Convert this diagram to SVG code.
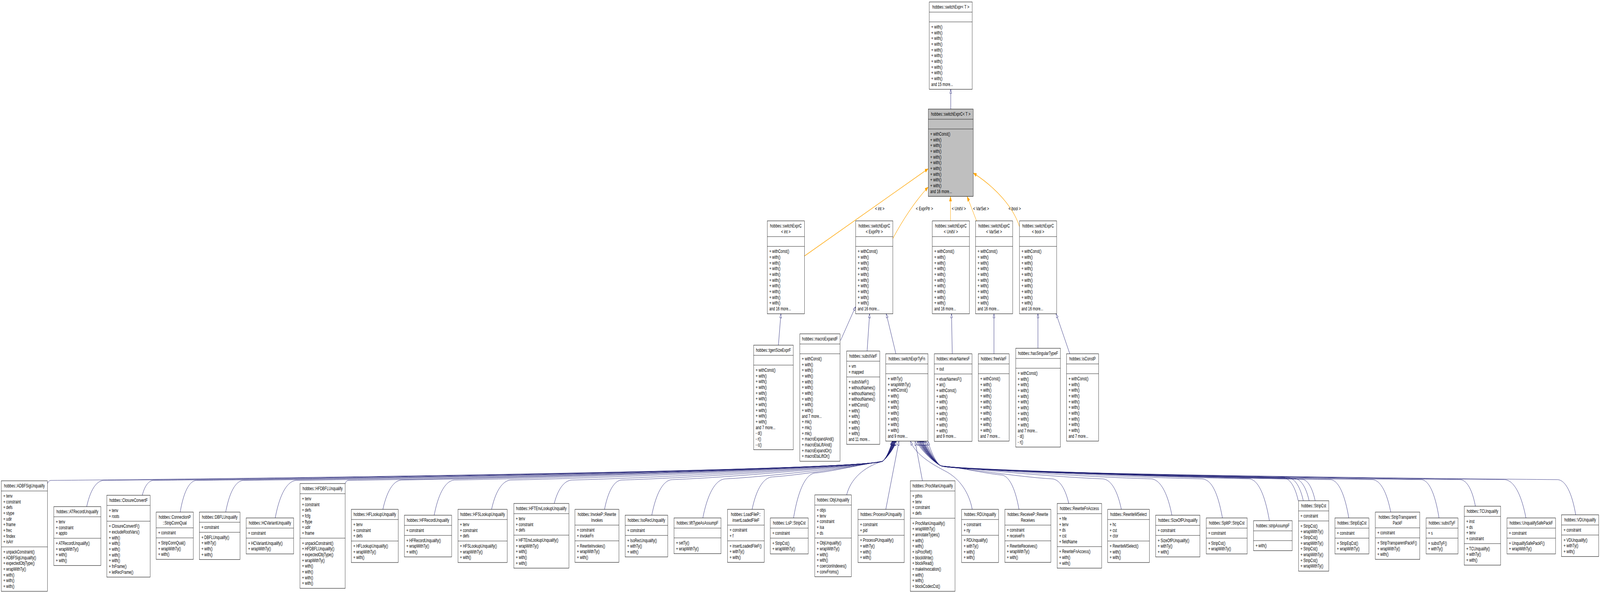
<svg xmlns="http://www.w3.org/2000/svg" width="6331" height="1517" viewBox="0 0 6331 1517" preserveAspectRatio="none">
<style>
svg{width:100vw;height:100vh;overflow:hidden}
text{font-family:"Liberation Sans",Arial,Helvetica,sans-serif;font-size:13.33px;fill:#000}
.c{text-anchor:middle}
.b{fill:#fff;stroke:#000;stroke-width:1}
.g{fill:#bfbfbf;stroke:#000;stroke-width:1}
.d{fill:none;stroke:#000;stroke-width:1}
.e{fill:none;stroke:#191970;stroke-width:1;marker-end:url(#ah)}
.o{fill:none;stroke:#ffa500;stroke-width:1.4;marker-end:url(#ao)}
</style>
<defs>
<marker id="ah" markerUnits="userSpaceOnUse" markerWidth="12" markerHeight="10" refX="10.5" refY="4" orient="auto"><path d="M0.5,0.5 L10.5,4 L0.5,7.5 Z" fill="#fff" stroke="#191970" stroke-width="1"/></marker>
<marker id="ao" markerUnits="userSpaceOnUse" markerWidth="14" markerHeight="11" refX="12" refY="5" orient="auto"><path d="M0,0.5 L12,5 L0,9.5 Z" fill="#ffa500" stroke="#ffa500" stroke-width="1"/></marker>
</defs>
<rect width="6331" height="1517" fill="#fff"/>

<g id="edges">
<path class="e" d="M3762,279 L3762,229"/>
<path class="o" d="M3183,655 L3672,432"/>
<path class="o" d="M3532,611 C3570,565 3620,515 3672,479"/>
<path class="o" d="M3761,565 L3761,503"/>
<path class="o" d="M3864,565 L3827,503"/>
<path class="o" d="M4034,580 C4010,530 3940,480 3852,443"/>
<path class="e" d="M3080,883 L3090,803"/>
<path class="e" d="M3326,871 L3385,785"/>
<path class="e" d="M3431,898 L3441,803"/>
<path class="e" d="M3545,905 L3507,803"/>
<path class="e" d="M3768,905 L3765,803"/>
<path class="e" d="M3933,905 L3933,803"/>
<path class="e" d="M4107,891 L4107,803"/>
<path class="e" d="M4233,905 L4179,803"/>
<path class="e" d="M188,1237 C191,1231 197,1229 201,1229 C1335,1222 3440,1202 3492,1180 C3508,1172 3522,1148 3530,1129"/>
<path class="e" d="M343,1296 C360,1246 387,1229 411,1229 C1471,1222 3440,1200 3492,1180 C3508,1172 3523,1148 3531,1129"/>
<path class="e" d="M563,1267 C574,1239 592,1229 607,1229 C1599,1222 3440,1199 3492,1180 C3508,1172 3524,1148 3532,1129"/>
<path class="e" d="M713,1310 C729,1249 755,1229 778,1229 C1710,1222 3440,1198 3492,1180 C3508,1172 3525,1148 3533,1129"/>
<path class="e" d="M893,1310 C911,1249 939,1229 964,1229 C1831,1222 3440,1197 3492,1180 C3508,1172 3526,1148 3534,1129"/>
<path class="e" d="M1089,1325 C1110,1253 1144,1229 1174,1229 C1967,1222 3440,1196 3492,1180 C3508,1172 3527,1148 3535,1129"/>
<path class="e" d="M1366,1237 C1369,1231 1374,1229 1379,1229 C2100,1222 3440,1195 3492,1180 C3508,1172 3528,1148 3536,1129"/>
<path class="e" d="M1515,1303 C1534,1247 1564,1228 1590,1228 C2237,1221 3440,1194 3492,1180 C3508,1172 3529,1148 3537,1129"/>
<path class="e" d="M1718,1318 C1738,1251 1771,1228 1800,1228 C2374,1221 3440,1193 3492,1180 C3508,1172 3530,1148 3538,1129"/>
<path class="e" d="M1945,1303 C1964,1247 1996,1228 2023,1228 C2519,1221 3440,1192 3492,1180 C3508,1172 3531,1148 3539,1129"/>
<path class="e" d="M2193,1288 C2211,1243 2240,1228 2265,1228 C2676,1221 3440,1191 3492,1180 C3508,1172 3532,1148 3540,1129"/>
<path class="e" d="M2392,1303 C2409,1247 2437,1228 2461,1228 C2804,1221 3440,1190 3492,1180 C3508,1172 3533,1148 3541,1129"/>
<path class="e" d="M2579,1318 C2600,1250 2632,1227 2661,1227 C2934,1220 3440,1189 3492,1180 C3508,1172 3534,1148 3542,1129"/>
<path class="e" d="M2781,1325 C2804,1250 2840,1225 2872,1225 C3071,1218 3440,1188 3492,1180 C3508,1172 3535,1148 3543,1129"/>
<path class="e" d="M2976,1303 C2996,1241 3029,1220 3058,1220 C3192,1214 3440,1186 3492,1180 C3508,1172 3536,1148 3544,1129"/>
<path class="e" d="M3140,1325 C3162,1239 3197,1210 3228,1210 C3302,1205 3440,1184 3492,1180 C3508,1172 3537,1148 3545,1129"/>
<path class="e" d="M3350,1266 C3370,1215 3440,1190 3492,1180 C3508,1172 3538,1148 3547,1129"/>
<path class="e" d="M3505,1303 L3557,1129"/>
<path class="e" d="M3650,1230 L3621,1129"/>
<path class="e" d="M3847,1303 C3835,1262 3800,1225 3740,1205 C3680,1185 3620,1160 3603,1129"/>
<path class="e" d="M4032,1303 C4014,1237 3985,1215 3960,1215 C3897,1211 3780,1194 3725,1192 C3705,1188 3638,1150 3628,1129"/>
<path class="e" d="M4229,1288 C4212,1241 4185,1225 4161,1225 C4028,1220 3780,1195 3725,1192 C3705,1188 3642,1150 3632,1129"/>
<path class="e" d="M4437,1303 C4418,1244 4388,1225 4361,1225 C4158,1220 3780,1196 3725,1192 C3705,1188 3645,1150 3635,1129"/>
<path class="e" d="M4637,1318 C4616,1248 4582,1225 4553,1225 C4282,1220 3780,1197 3725,1192 C3705,1188 3648,1150 3638,1129"/>
<path class="e" d="M4837,1325 C4816,1250 4788,1225 4753,1225 C4412,1220 3780,1198 3725,1192 C3705,1188 3650,1150 3640,1129"/>
<path class="e" d="M5023,1333 C5002,1252 4970,1225 4941,1225 C4535,1220 3780,1199 3725,1192 C3705,1188 3652,1150 3642,1129"/>
<path class="e" d="M5137,1281 C5122,1237 5097,1222 5076,1222 C4622,1217 3780,1200 3725,1192 C3705,1188 3654,1150 3644,1129"/>
<path class="e" d="M5157,1281 C5142,1237 5117,1222 5095,1222 C4635,1217 3780,1201 3725,1192 C3705,1188 3656,1150 3646,1129"/>
<path class="e" d="M5180,1281 C5165,1238 5141,1224 5120,1224 C4651,1219 3780,1202 3725,1192 C3705,1188 3658,1150 3648,1129"/>
<path class="e" d="M5204,1281 C5190,1240 5169,1226 5150,1226 C4671,1221 3780,1203 3725,1192 C3705,1188 3660,1150 3650,1129"/>
<path class="e" d="M5337,1325 C5318,1252 5289,1227 5263,1227 C4744,1222 3780,1204 3725,1192 C3705,1188 3662,1150 3652,1129"/>
<path class="e" d="M5503,1310 C5484,1248 5455,1227 5429,1227 C4852,1222 3780,1205 3725,1192 C3705,1188 3664,1150 3654,1129"/>
<path class="e" d="M5694,1325 C5676,1252 5648,1227 5623,1227 C4978,1222 3780,1206 3725,1192 C3705,1188 3666,1150 3656,1129"/>
<path class="e" d="M5838,1295 C5823,1244 5798,1227 5777,1227 C5078,1222 3780,1207 3725,1192 C3705,1188 3670,1150 3660,1129"/>
<path class="e" d="M6038,1325 C6016,1252 5982,1227 5952,1227 C5192,1222 3780,1208 3725,1192 C3705,1188 3674,1150 3664,1129"/>
<path class="e" d="M6235,1317 C6217,1250 6188,1227 6162,1227 C5323,1222 3780,1209 3725,1192 C3705,1188 3680,1150 3672,1129"/>
<text class="c" x="3481" y="538">&lt; int &gt;</text>
<text class="c" x="3658" y="538">&lt; ExprPtr &gt;</text>
<text class="c" x="3794" y="538">&lt; UnitV &gt;</text>
<text class="c" x="3882" y="538">&lt; VarSet &gt;</text>
<text class="c" x="4015" y="538">&lt; bool &gt;</text>
</g>

<g id="node-switchExpr" transform="translate(3677,5)">
<rect class="b" width="170" height="223.4"/><path class="d" d="M0,26H170M0,51H170"/>
<text class="c" x="85" y="17.5">hobbes::switchExpr&lt; T &gt;</text>
<text y="68"><tspan x="8">+ with()</tspan><tspan x="8" dy="14.67">+ with()</tspan><tspan x="8" dy="14.67">+ with()</tspan><tspan x="8" dy="14.67">+ with()</tspan><tspan x="8" dy="14.67">+ with()</tspan><tspan x="8" dy="14.67">+ with()</tspan><tspan x="8" dy="14.67">+ with()</tspan><tspan x="8" dy="14.67">+ with()</tspan><tspan x="8" dy="14.67">+ with()</tspan><tspan x="8" dy="14.67">+ with()</tspan><tspan x="8" dy="14.67">and 15 more...</tspan></text>
</g>

<g id="node-switchExprC" transform="translate(3673,279)">
<rect class="g" width="178" height="223.4"/><path class="d" d="M0,26H178M0,51H178"/>
<text class="c" x="89" y="17.5">hobbes::switchExprC&lt; T &gt;</text>
<text y="68"><tspan x="8">+ withConst()</tspan><tspan x="8" dy="14.67">+ with()</tspan><tspan x="8" dy="14.67">+ with()</tspan><tspan x="8" dy="14.67">+ with()</tspan><tspan x="8" dy="14.67">+ with()</tspan><tspan x="8" dy="14.67">+ with()</tspan><tspan x="8" dy="14.67">+ with()</tspan><tspan x="8" dy="14.67">+ with()</tspan><tspan x="8" dy="14.67">+ with()</tspan><tspan x="8" dy="14.67">+ with()</tspan><tspan x="8" dy="14.67">and 16 more...</tspan></text>
</g>

<g id="node-switchExprC-int" transform="translate(3036,565)">
<rect class="b" width="147" height="237.7"/><path class="d" d="M0,40.3H147M0,65.3H147"/>
<text class="c" x="73.5" y="17.5">hobbes::switchExprC</text><text class="c" x="73.5" y="32.2">&lt; int &gt;</text>
<text y="82.3"><tspan x="8">+ withConst()</tspan><tspan x="8" dy="14.67">+ with()</tspan><tspan x="8" dy="14.67">+ with()</tspan><tspan x="8" dy="14.67">+ with()</tspan><tspan x="8" dy="14.67">+ with()</tspan><tspan x="8" dy="14.67">+ with()</tspan><tspan x="8" dy="14.67">+ with()</tspan><tspan x="8" dy="14.67">+ with()</tspan><tspan x="8" dy="14.67">+ with()</tspan><tspan x="8" dy="14.67">+ with()</tspan><tspan x="8" dy="14.67">and 16 more...</tspan></text>
</g>

<g id="node-switchExprC-ExprPtr" transform="translate(3386,565)">
<rect class="b" width="147" height="237.7"/><path class="d" d="M0,40.3H147M0,65.3H147"/>
<text class="c" x="73.5" y="17.5">hobbes::switchExprC</text><text class="c" x="73.5" y="32.2">&lt; ExprPtr &gt;</text>
<text y="82.3"><tspan x="8">+ withConst()</tspan><tspan x="8" dy="14.67">+ with()</tspan><tspan x="8" dy="14.67">+ with()</tspan><tspan x="8" dy="14.67">+ with()</tspan><tspan x="8" dy="14.67">+ with()</tspan><tspan x="8" dy="14.67">+ with()</tspan><tspan x="8" dy="14.67">+ with()</tspan><tspan x="8" dy="14.67">+ with()</tspan><tspan x="8" dy="14.67">+ with()</tspan><tspan x="8" dy="14.67">+ with()</tspan><tspan x="8" dy="14.67">and 16 more...</tspan></text>
</g>

<g id="node-switchExprC-UnitV" transform="translate(3689,565)">
<rect class="b" width="147" height="237.7"/><path class="d" d="M0,40.3H147M0,65.3H147"/>
<text class="c" x="73.5" y="17.5">hobbes::switchExprC</text><text class="c" x="73.5" y="32.2">&lt; UnitV &gt;</text>
<text y="82.3"><tspan x="8">+ withConst()</tspan><tspan x="8" dy="14.67">+ with()</tspan><tspan x="8" dy="14.67">+ with()</tspan><tspan x="8" dy="14.67">+ with()</tspan><tspan x="8" dy="14.67">+ with()</tspan><tspan x="8" dy="14.67">+ with()</tspan><tspan x="8" dy="14.67">+ with()</tspan><tspan x="8" dy="14.67">+ with()</tspan><tspan x="8" dy="14.67">+ with()</tspan><tspan x="8" dy="14.67">+ with()</tspan><tspan x="8" dy="14.67">and 16 more...</tspan></text>
</g>

<g id="node-switchExprC-VarSet" transform="translate(3860,565)">
<rect class="b" width="147" height="237.7"/><path class="d" d="M0,40.3H147M0,65.3H147"/>
<text class="c" x="73.5" y="17.5">hobbes::switchExprC</text><text class="c" x="73.5" y="32.2">&lt; VarSet &gt;</text>
<text y="82.3"><tspan x="8">+ withConst()</tspan><tspan x="8" dy="14.67">+ with()</tspan><tspan x="8" dy="14.67">+ with()</tspan><tspan x="8" dy="14.67">+ with()</tspan><tspan x="8" dy="14.67">+ with()</tspan><tspan x="8" dy="14.67">+ with()</tspan><tspan x="8" dy="14.67">+ with()</tspan><tspan x="8" dy="14.67">+ with()</tspan><tspan x="8" dy="14.67">+ with()</tspan><tspan x="8" dy="14.67">+ with()</tspan><tspan x="8" dy="14.67">and 16 more...</tspan></text>
</g>

<g id="node-switchExprC-bool" transform="translate(4034,565)">
<rect class="b" width="147" height="237.7"/><path class="d" d="M0,40.3H147M0,65.3H147"/>
<text class="c" x="73.5" y="17.5">hobbes::switchExprC</text><text class="c" x="73.5" y="32.2">&lt; bool &gt;</text>
<text y="82.3"><tspan x="8">+ withConst()</tspan><tspan x="8" dy="14.67">+ with()</tspan><tspan x="8" dy="14.67">+ with()</tspan><tspan x="8" dy="14.67">+ with()</tspan><tspan x="8" dy="14.67">+ with()</tspan><tspan x="8" dy="14.67">+ with()</tspan><tspan x="8" dy="14.67">+ with()</tspan><tspan x="8" dy="14.67">+ with()</tspan><tspan x="8" dy="14.67">+ with()</tspan><tspan x="8" dy="14.67">+ with()</tspan><tspan x="8" dy="14.67">and 16 more...</tspan></text>
</g>

<g id="node-tgenSizeExprF" transform="translate(2982,883)">
<rect class="b" width="157" height="267.4"/><path class="d" d="M0,26H157M0,51H157"/>
<text class="c" x="78.5" y="17.5">hobbes::tgenSizeExprF</text>
<text y="68"><tspan x="8">+ withConst()</tspan><tspan x="8" dy="14.67">+ with()</tspan><tspan x="8" dy="14.67">+ with()</tspan><tspan x="8" dy="14.67">+ with()</tspan><tspan x="8" dy="14.67">+ with()</tspan><tspan x="8" dy="14.67">+ with()</tspan><tspan x="8" dy="14.67">+ with()</tspan><tspan x="8" dy="14.67">+ with()</tspan><tspan x="8" dy="14.67">+ with()</tspan><tspan x="8" dy="14.67">+ with()</tspan><tspan x="8" dy="14.67">and 7 more...</tspan><tspan x="8" dy="14.67">- d()</tspan><tspan x="8" dy="14.67">- r()</tspan><tspan x="8" dy="14.67">- c()</tspan></text>
</g>

<g id="node-macroExpandF" transform="translate(3165,854)">
<rect class="b" width="159" height="326"/><path class="d" d="M0,26H159M0,51H159"/>
<text class="c" x="79.5" y="17.5">hobbes::macroExpandF</text>
<text y="68"><tspan x="8">+ withConst()</tspan><tspan x="8" dy="14.67">+ with()</tspan><tspan x="8" dy="14.67">+ with()</tspan><tspan x="8" dy="14.67">+ with()</tspan><tspan x="8" dy="14.67">+ with()</tspan><tspan x="8" dy="14.67">+ with()</tspan><tspan x="8" dy="14.67">+ with()</tspan><tspan x="8" dy="14.67">+ with()</tspan><tspan x="8" dy="14.67">+ with()</tspan><tspan x="8" dy="14.67">+ with()</tspan><tspan x="8" dy="14.67">and 7 more...</tspan><tspan x="8" dy="14.67">+ mk()</tspan><tspan x="8" dy="14.67">+ mk()</tspan><tspan x="8" dy="14.67">+ mk()</tspan><tspan x="8" dy="14.67">+ macroExpandAnd()</tspan><tspan x="8" dy="14.67">+ macroEtaLiftAnd()</tspan><tspan x="8" dy="14.67">+ macroExpandOr()</tspan><tspan x="8" dy="14.67">+ macroEtaLiftOr()</tspan></text>
</g>

<g id="node-substVarF" transform="translate(3350,898)">
<rect class="b" width="131" height="238.7"/><path class="d" d="M0,26H131M0,66.3H131"/>
<text class="c" x="65.5" y="17.5">hobbes::substVarF</text>
<text y="43"><tspan x="8">+ vm</tspan><tspan x="8" dy="14.67">+ mapped</tspan></text>
<text y="83.3"><tspan x="8">+ substVarF()</tspan><tspan x="8" dy="14.67">+ withoutNames()</tspan><tspan x="8" dy="14.67">+ withoutNames()</tspan><tspan x="8" dy="14.67">+ withoutNames()</tspan><tspan x="8" dy="14.67">+ withConst()</tspan><tspan x="8" dy="14.67">+ with()</tspan><tspan x="8" dy="14.67">+ with()</tspan><tspan x="8" dy="14.67">+ with()</tspan><tspan x="8" dy="14.67">+ with()</tspan><tspan x="8" dy="14.67">+ with()</tspan><tspan x="8" dy="14.67">and 11 more...</tspan></text>
</g>

<g id="node-switchExprTyFn" transform="translate(3505,905)">
<rect class="b" width="167" height="223.4"/><path class="d" d="M0,26H167M0,51H167"/>
<text class="c" x="83.5" y="17.5">hobbes::switchExprTyFn</text>
<text y="68"><tspan x="8">+ withTy()</tspan><tspan x="8" dy="14.67">+ wrapWithTy()</tspan><tspan x="8" dy="14.67">+ withConst()</tspan><tspan x="8" dy="14.67">+ with()</tspan><tspan x="8" dy="14.67">+ with()</tspan><tspan x="8" dy="14.67">+ with()</tspan><tspan x="8" dy="14.67">+ with()</tspan><tspan x="8" dy="14.67">+ with()</tspan><tspan x="8" dy="14.67">+ with()</tspan><tspan x="8" dy="14.67">+ with()</tspan><tspan x="8" dy="14.67">and 9 more...</tspan></text>
</g>

<g id="node-etvarNamesF" transform="translate(3697,905)">
<rect class="b" width="149" height="224.1"/><path class="d" d="M0,26H149M0,51.7H149"/>
<text class="c" x="74.5" y="17.5">hobbes::etvarNamesF</text>
<text y="43"><tspan x="8">+ out</tspan></text>
<text y="68.7"><tspan x="8">+ etvarNamesF()</tspan><tspan x="8" dy="14.67">+ an()</tspan><tspan x="8" dy="14.67">+ withConst()</tspan><tspan x="8" dy="14.67">+ with()</tspan><tspan x="8" dy="14.67">+ with()</tspan><tspan x="8" dy="14.67">+ with()</tspan><tspan x="8" dy="14.67">+ with()</tspan><tspan x="8" dy="14.67">+ with()</tspan><tspan x="8" dy="14.67">+ with()</tspan><tspan x="8" dy="14.67">+ with()</tspan><tspan x="8" dy="14.67">and 9 more...</tspan></text>
</g>

<g id="node-freeVarF" transform="translate(3871,905)">
<rect class="b" width="122" height="223.4"/><path class="d" d="M0,26H122M0,51H122"/>
<text class="c" x="61" y="17.5">hobbes::freeVarF</text>
<text y="68"><tspan x="8">+ withConst()</tspan><tspan x="8" dy="14.67">+ with()</tspan><tspan x="8" dy="14.67">+ with()</tspan><tspan x="8" dy="14.67">+ with()</tspan><tspan x="8" dy="14.67">+ with()</tspan><tspan x="8" dy="14.67">+ with()</tspan><tspan x="8" dy="14.67">+ with()</tspan><tspan x="8" dy="14.67">+ with()</tspan><tspan x="8" dy="14.67">+ with()</tspan><tspan x="8" dy="14.67">+ with()</tspan><tspan x="8" dy="14.67">and 7 more...</tspan></text>
</g>

<g id="node-hasSingularTypeF" transform="translate(4019,891)">
<rect class="b" width="177" height="252.7"/><path class="d" d="M0,26H177M0,51H177"/>
<text class="c" x="88.5" y="17.5">hobbes::hasSingularTypeF</text>
<text y="68"><tspan x="8">+ withConst()</tspan><tspan x="8" dy="14.67">+ with()</tspan><tspan x="8" dy="14.67">+ with()</tspan><tspan x="8" dy="14.67">+ with()</tspan><tspan x="8" dy="14.67">+ with()</tspan><tspan x="8" dy="14.67">+ with()</tspan><tspan x="8" dy="14.67">+ with()</tspan><tspan x="8" dy="14.67">+ with()</tspan><tspan x="8" dy="14.67">+ with()</tspan><tspan x="8" dy="14.67">+ with()</tspan><tspan x="8" dy="14.67">and 7 more...</tspan><tspan x="8" dy="14.67">- d()</tspan><tspan x="8" dy="14.67">- r()</tspan></text>
</g>

<g id="node-isConstP" transform="translate(4220,905)">
<rect class="b" width="127" height="223.4"/><path class="d" d="M0,26H127M0,51H127"/>
<text class="c" x="63.5" y="17.5">hobbes::isConstP</text>
<text y="68"><tspan x="8">+ withConst()</tspan><tspan x="8" dy="14.67">+ with()</tspan><tspan x="8" dy="14.67">+ with()</tspan><tspan x="8" dy="14.67">+ with()</tspan><tspan x="8" dy="14.67">+ with()</tspan><tspan x="8" dy="14.67">+ with()</tspan><tspan x="8" dy="14.67">+ with()</tspan><tspan x="8" dy="14.67">+ with()</tspan><tspan x="8" dy="14.67">+ with()</tspan><tspan x="8" dy="14.67">+ with()</tspan><tspan x="8" dy="14.67">and 7 more...</tspan></text>
</g>

<g id="node-ADBFSigUnqualify" transform="translate(5,1230)">
<rect class="b" width="183" height="282.7"/><path class="d" d="M0,26H183M0,169H183"/>
<text class="c" x="91.5" y="17.5">hobbes::ADBFSigUnqualify</text>
<text y="43"><tspan x="8">+ tenv</tspan><tspan x="8" dy="14.67">+ constraint</tspan><tspan x="8" dy="14.67">+ defs</tspan><tspan x="8" dy="14.67">+ stype</tspan><tspan x="8" dy="14.67">+ udir</tspan><tspan x="8" dy="14.67">+ fname</tspan><tspan x="8" dy="14.67">+ frec</tspan><tspan x="8" dy="14.67">+ findex</tspan><tspan x="8" dy="14.67">+ isArr</tspan></text>
<text y="186"><tspan x="8">+ unpackConstraint()</tspan><tspan x="8" dy="14.67">+ ADBFSigUnqualify()</tspan><tspan x="8" dy="14.67">+ expectedObjType()</tspan><tspan x="8" dy="14.67">+ wrapWithTy()</tspan><tspan x="8" dy="14.67">+ with()</tspan><tspan x="8" dy="14.67">+ with()</tspan><tspan x="8" dy="14.67">+ with()</tspan></text>
</g>

<g id="node-ATRecordUnqualify" transform="translate(213,1296)">
<rect class="b" width="186" height="150.7"/><path class="d" d="M0,26H186M0,81H186"/>
<text class="c" x="93" y="17.5">hobbes::ATRecordUnqualify</text>
<text y="43"><tspan x="8">+ tenv</tspan><tspan x="8" dy="14.67">+ constraint</tspan><tspan x="8" dy="14.67">+ appto</tspan></text>
<text y="98"><tspan x="8">+ ATRecordUnqualify()</tspan><tspan x="8" dy="14.67">+ wrapWithTy()</tspan><tspan x="8" dy="14.67">+ with()</tspan><tspan x="8" dy="14.67">+ with()</tspan></text>
</g>

<g id="node-ClosureConvertF" transform="translate(423,1267)">
<rect class="b" width="171" height="209.3"/><path class="d" d="M0,26H171M0,66.3H171"/>
<text class="c" x="85.5" y="17.5">hobbes::ClosureConvertF</text>
<text y="43"><tspan x="8">+ tenv</tspan><tspan x="8" dy="14.67">+ roots</tspan></text>
<text y="83.3"><tspan x="8">+ ClosureConvertF()</tspan><tspan x="8" dy="14.67">+ excludeRootVars()</tspan><tspan x="8" dy="14.67">+ with()</tspan><tspan x="8" dy="14.67">+ with()</tspan><tspan x="8" dy="14.67">+ with()</tspan><tspan x="8" dy="14.67">+ with()</tspan><tspan x="8" dy="14.67">+ with()</tspan><tspan x="8" dy="14.67">+ fnFrame()</tspan><tspan x="8" dy="14.67">+ letRecFrame()</tspan></text>
</g>

<g id="node-StripConnQual" transform="translate(618,1310)">
<rect class="b" width="147" height="121"/><path class="d" d="M0,40.3H147M0,66H147"/>
<text class="c" x="73.5" y="17.5">hobbes::ConnectionP</text><text class="c" x="73.5" y="32.2">::StripConnQual</text>
<text y="57.3"><tspan x="8">+ constraint</tspan></text>
<text y="83"><tspan x="8">+ StripConnQual()</tspan><tspan x="8" dy="14.67">+ wrapWithTy()</tspan><tspan x="8" dy="14.67">+ with()</tspan></text>
</g>

<g id="node-DBFLUnqualify" transform="translate(789,1310)">
<rect class="b" width="161" height="121.4"/><path class="d" d="M0,26H161M0,51.7H161"/>
<text class="c" x="80.5" y="17.5">hobbes::DBFLUnqualify</text>
<text y="43"><tspan x="8">+ constraint</tspan></text>
<text y="68.7"><tspan x="8">+ DBFLUnqualify()</tspan><tspan x="8" dy="14.67">+ withTy()</tspan><tspan x="8" dy="14.67">+ with()</tspan><tspan x="8" dy="14.67">+ with()</tspan></text>
</g>

<g id="node-HCVariantUnqualify" transform="translate(974,1325)">
<rect class="b" width="188" height="92"/><path class="d" d="M0,26H188M0,51.7H188"/>
<text class="c" x="94" y="17.5">hobbes::HCVariantUnqualify</text>
<text y="43"><tspan x="8">+ constraint</tspan></text>
<text y="68.7"><tspan x="8">+ HCVariantUnqualify()</tspan><tspan x="8" dy="14.67">+ wrapWithTy()</tspan></text>
</g>

<g id="node-HFDBFLUnqualify" transform="translate(1187,1237)">
<rect class="b" width="179" height="268.1"/><path class="d" d="M0,26H179M0,139.7H179"/>
<text class="c" x="89.5" y="17.5">hobbes::HFDBFLUnqualify</text>
<text y="43"><tspan x="8">+ tenv</tspan><tspan x="8" dy="14.67">+ constraint</tspan><tspan x="8" dy="14.67">+ defs</tspan><tspan x="8" dy="14.67">+ fcfg</tspan><tspan x="8" dy="14.67">+ ftype</tspan><tspan x="8" dy="14.67">+ udir</tspan><tspan x="8" dy="14.67">+ fname</tspan></text>
<text y="156.7"><tspan x="8">+ unpackConstraint()</tspan><tspan x="8" dy="14.67">+ HFDBFLUnqualify()</tspan><tspan x="8" dy="14.67">+ expectedObjType()</tspan><tspan x="8" dy="14.67">+ wrapWithTy()</tspan><tspan x="8" dy="14.67">+ with()</tspan><tspan x="8" dy="14.67">+ with()</tspan><tspan x="8" dy="14.67">+ with()</tspan><tspan x="8" dy="14.67">+ with()</tspan></text>
</g>

<g id="node-HFLookupUnqualify" transform="translate(1390,1303)">
<rect class="b" width="186" height="136"/><path class="d" d="M0,26H186M0,81H186"/>
<text class="c" x="93" y="17.5">hobbes::HFLookupUnqualify</text>
<text y="43"><tspan x="8">+ tenv</tspan><tspan x="8" dy="14.67">+ constraint</tspan><tspan x="8" dy="14.67">+ defs</tspan></text>
<text y="98"><tspan x="8">+ HFLookupUnqualify()</tspan><tspan x="8" dy="14.67">+ wrapWithTy()</tspan><tspan x="8" dy="14.67">+ with()</tspan></text>
</g>

<g id="node-HFRecordUnqualify" transform="translate(1600,1318)">
<rect class="b" width="187" height="106.7"/><path class="d" d="M0,26H187M0,51.7H187"/>
<text class="c" x="93.5" y="17.5">hobbes::HFRecordUnqualify</text>
<text y="43"><tspan x="8">+ constraint</tspan></text>
<text y="68.7"><tspan x="8">+ HFRecordUnqualify()</tspan><tspan x="8" dy="14.67">+ wrapWithTy()</tspan><tspan x="8" dy="14.67">+ with()</tspan></text>
</g>

<g id="node-HFSLookupUnqualify" transform="translate(1812,1303)">
<rect class="b" width="195" height="136"/><path class="d" d="M0,26H195M0,81H195"/>
<text class="c" x="97.5" y="17.5">hobbes::HFSLookupUnqualify</text>
<text y="43"><tspan x="8">+ tenv</tspan><tspan x="8" dy="14.67">+ constraint</tspan><tspan x="8" dy="14.67">+ defs</tspan></text>
<text y="98"><tspan x="8">+ HFSLookupUnqualify()</tspan><tspan x="8" dy="14.67">+ wrapWithTy()</tspan><tspan x="8" dy="14.67">+ with()</tspan></text>
</g>

<g id="node-HFTEnvLookupUnqualify" transform="translate(2033,1288)">
<rect class="b" width="218" height="165.4"/><path class="d" d="M0,26H218M0,81H218"/>
<text class="c" x="109" y="17.5">hobbes::HFTEnvLookupUnqualify</text>
<text y="43"><tspan x="8">+ tenv</tspan><tspan x="8" dy="14.67">+ constraint</tspan><tspan x="8" dy="14.67">+ defs</tspan></text>
<text y="98"><tspan x="8">+ HFTEnvLookupUnqualify()</tspan><tspan x="8" dy="14.67">+ wrapWithTy()</tspan><tspan x="8" dy="14.67">+ with()</tspan><tspan x="8" dy="14.67">+ with()</tspan><tspan x="8" dy="14.67">+ with()</tspan></text>
</g>

<g id="node-RewriteInvokes" transform="translate(2275,1303)">
<rect class="b" width="174" height="135.6"/><path class="d" d="M0,40.3H174M0,80.6H174"/>
<text class="c" x="87" y="17.5">hobbes::InvokeP::Rewrite</text><text class="c" x="87" y="32.2">Invokes</text>
<text y="57.3"><tspan x="8">+ constraint</tspan><tspan x="8" dy="14.67">+ invokeFn</tspan></text>
<text y="97.6"><tspan x="8">+ RewriteInvokes()</tspan><tspan x="8" dy="14.67">+ wrapWithTy()</tspan><tspan x="8" dy="14.67">+ with()</tspan></text>
</g>

<g id="node-IsoRecUnqualify" transform="translate(2474,1318)">
<rect class="b" width="168" height="106.7"/><path class="d" d="M0,26H168M0,51.7H168"/>
<text class="c" x="84" y="17.5">hobbes::IsoRecUnqualify</text>
<text y="43"><tspan x="8">+ constraint</tspan></text>
<text y="68.7"><tspan x="8">+ IsoRecUnqualify()</tspan><tspan x="8" dy="14.67">+ withTy()</tspan><tspan x="8" dy="14.67">+ with()</tspan></text>
</g>

<g id="node-liftTypeAsAssumpF" transform="translate(2667,1325)">
<rect class="b" width="186" height="91.3"/><path class="d" d="M0,26H186M0,51H186"/>
<text class="c" x="93" y="17.5">hobbes::liftTypeAsAssumpF</text>
<text y="68"><tspan x="8">+ setTy()</tspan><tspan x="8" dy="14.67">+ wrapWithTy()</tspan></text>
</g>

<g id="node-insertLoadedFileF" transform="translate(2879,1303)">
<rect class="b" width="145" height="135.6"/><path class="d" d="M0,40.3H145M0,80.6H145"/>
<text class="c" x="72.5" y="17.5">hobbes::LoadFileP::</text><text class="c" x="72.5" y="32.2">insertLoadedFileF</text>
<text y="57.3"><tspan x="8">+ constraint</tspan><tspan x="8" dy="14.67">+ f</tspan></text>
<text y="97.6"><tspan x="8">+ insertLoadedFileF()</tspan><tspan x="8" dy="14.67">+ withTy()</tspan><tspan x="8" dy="14.67">+ with()</tspan></text>
</g>

<g id="node-LsP-StripCst" transform="translate(3048,1325)">
<rect class="b" width="150" height="92"/><path class="d" d="M0,26H150M0,51.7H150"/>
<text class="c" x="75" y="17.5">hobbes::LsP::StripCst</text>
<text y="43"><tspan x="8">+ constraint</tspan></text>
<text y="68.7"><tspan x="8">+ StripCst()</tspan><tspan x="8" dy="14.67">+ wrapWithTy()</tspan></text>
</g>

<g id="node-ObjUnqualify" transform="translate(3224,1266)">
<rect class="b" width="145" height="209.4"/><path class="d" d="M0,26H145M0,110.4H145"/>
<text class="c" x="72.5" y="17.5">hobbes::ObjUnqualify</text>
<text y="43"><tspan x="8">+ objs</tspan><tspan x="8" dy="14.67">+ tenv</tspan><tspan x="8" dy="14.67">+ constraint</tspan><tspan x="8" dy="14.67">+ isa</tspan><tspan x="8" dy="14.67">+ ds</tspan></text>
<text y="127.4"><tspan x="8">+ ObjUnqualify()</tspan><tspan x="8" dy="14.67">+ wrapWithTy()</tspan><tspan x="8" dy="14.67">+ with()</tspan><tspan x="8" dy="14.67">+ with()</tspan><tspan x="8" dy="14.67">+ coercionIndexes()</tspan><tspan x="8" dy="14.67">+ convFroms()</tspan></text>
</g>

<g id="node-ProcessPUnqualify" transform="translate(3395,1303)">
<rect class="b" width="183" height="136"/><path class="d" d="M0,26H183M0,66.3H183"/>
<text class="c" x="91.5" y="17.5">hobbes::ProcessPUnqualify</text>
<text y="43"><tspan x="8">+ constraint</tspan><tspan x="8" dy="14.67">+ pid</tspan></text>
<text y="83.3"><tspan x="8">+ ProcessPUnqualify()</tspan><tspan x="8" dy="14.67">+ withTy()</tspan><tspan x="8" dy="14.67">+ with()</tspan><tspan x="8" dy="14.67">+ with()</tspan></text>
</g>

<g id="node-ProcManUnqualify" transform="translate(3602,1230)">
<rect class="b" width="177" height="282.7"/><path class="d" d="M0,26H177M0,95.7H177"/>
<text class="c" x="88.5" y="17.5">hobbes::ProcManUnqualify</text>
<text y="43"><tspan x="8">+ pthis</tspan><tspan x="8" dy="14.67">+ tenv</tspan><tspan x="8" dy="14.67">+ constraint</tspan><tspan x="8" dy="14.67">+ defs</tspan></text>
<text y="112.7"><tspan x="8">+ ProcManUnqualify()</tspan><tspan x="8" dy="14.67">+ wrapWithTy()</tspan><tspan x="8" dy="14.67">+ annotateTypes()</tspan><tspan x="8" dy="14.67">+ with()</tspan><tspan x="8" dy="14.67">+ with()</tspan><tspan x="8" dy="14.67">+ isProcRef()</tspan><tspan x="8" dy="14.67">+ blockWrite()</tspan><tspan x="8" dy="14.67">+ blockRead()</tspan><tspan x="8" dy="14.67">+ makeInvocation()</tspan><tspan x="8" dy="14.67">+ with()</tspan><tspan x="8" dy="14.67">+ with()</tspan><tspan x="8" dy="14.67">+ blockCodecCst()</tspan></text>
</g>

<g id="node-RDUnqualify" transform="translate(3805,1303)">
<rect class="b" width="146" height="136"/><path class="d" d="M0,26H146M0,66.3H146"/>
<text class="c" x="73" y="17.5">hobbes::RDUnqualify</text>
<text y="43"><tspan x="8">+ constraint</tspan><tspan x="8" dy="14.67">+ rty</tspan></text>
<text y="83.3"><tspan x="8">+ RDUnqualify()</tspan><tspan x="8" dy="14.67">+ withTy()</tspan><tspan x="8" dy="14.67">+ with()</tspan><tspan x="8" dy="14.67">+ with()</tspan></text>
</g>

<g id="node-RewriteReceives" transform="translate(3976,1303)">
<rect class="b" width="182" height="135.6"/><path class="d" d="M0,40.3H182M0,80.6H182"/>
<text class="c" x="91" y="17.5">hobbes::ReceiveP::Rewrite</text><text class="c" x="91" y="32.2">Receives</text>
<text y="57.3"><tspan x="8">+ constraint</tspan><tspan x="8" dy="14.67">+ receiveFn</tspan></text>
<text y="97.6"><tspan x="8">+ RewriteReceives()</tspan><tspan x="8" dy="14.67">+ wrapWithTy()</tspan><tspan x="8" dy="14.67">+ with()</tspan></text>
</g>

<g id="node-RewriteFnAccess" transform="translate(4183,1288)">
<rect class="b" width="176" height="165.4"/><path class="d" d="M0,26H176M0,110.4H176"/>
<text class="c" x="88" y="17.5">hobbes::RewriteFnAccess</text>
<text y="43"><tspan x="8">+ hfe</tspan><tspan x="8" dy="14.67">+ tenv</tspan><tspan x="8" dy="14.67">+ ds</tspan><tspan x="8" dy="14.67">+ cst</tspan><tspan x="8" dy="14.67">+ fieldName</tspan></text>
<text y="127.4"><tspan x="8">+ RewriteFnAccess()</tspan><tspan x="8" dy="14.67">+ with()</tspan><tspan x="8" dy="14.67">+ with()</tspan></text>
</g>

<g id="node-RewriteMSelect" transform="translate(4383,1303)">
<rect class="b" width="165" height="136"/><path class="d" d="M0,26H165M0,81H165"/>
<text class="c" x="82.5" y="17.5">hobbes::RewriteMSelect</text>
<text y="43"><tspan x="8">+ hc</tspan><tspan x="8" dy="14.67">+ cst</tspan><tspan x="8" dy="14.67">+ ctor</tspan></text>
<text y="98"><tspan x="8">+ RewriteMSelect()</tspan><tspan x="8" dy="14.67">+ with()</tspan><tspan x="8" dy="14.67">+ with()</tspan></text>
</g>

<g id="node-SizeOfPUnqualify" transform="translate(4573,1318)">
<rect class="b" width="175" height="106.7"/><path class="d" d="M0,26H175M0,51.7H175"/>
<text class="c" x="87.5" y="17.5">hobbes::SizeOfPUnqualify</text>
<text y="43"><tspan x="8">+ constraint</tspan></text>
<text y="68.7"><tspan x="8">+ SizeOfPUnqualify()</tspan><tspan x="8" dy="14.67">+ withTy()</tspan><tspan x="8" dy="14.67">+ with()</tspan></text>
</g>

<g id="node-SplitP-StripCst" transform="translate(4773,1325)">
<rect class="b" width="162" height="92"/><path class="d" d="M0,26H162M0,51.7H162"/>
<text class="c" x="81" y="17.5">hobbes::SplitP::StripCst</text>
<text y="43"><tspan x="8">+ constraint</tspan></text>
<text y="68.7"><tspan x="8">+ StripCst()</tspan><tspan x="8" dy="14.67">+ wrapWithTy()</tspan></text>
</g>

<g id="node-stripAssumpF" transform="translate(4960,1332)">
<rect class="b" width="153" height="76.7"/><path class="d" d="M0,26H153M0,51H153"/>
<text class="c" x="76.5" y="17.5">hobbes::stripAssumpF</text>
<text y="68"><tspan x="8">+ with()</tspan></text>
</g>

<g id="node-StripCst" transform="translate(5138,1281)">
<rect class="b" width="120" height="180.1"/><path class="d" d="M0,26H120M0,51.7H120"/>
<text class="c" x="60" y="17.5">hobbes::StripCst</text>
<text y="43"><tspan x="8">+ constraint</tspan></text>
<text y="68.7"><tspan x="8">+ StripCst()</tspan><tspan x="8" dy="14.67">+ wrapWithTy()</tspan><tspan x="8" dy="14.67">+ StripCst()</tspan><tspan x="8" dy="14.67">+ wrapWithTy()</tspan><tspan x="8" dy="14.67">+ StripCst()</tspan><tspan x="8" dy="14.67">+ wrapWithTy()</tspan><tspan x="8" dy="14.67">+ StripCst()</tspan><tspan x="8" dy="14.67">+ wrapWithTy()</tspan></text>
</g>

<g id="node-StripEqCst" transform="translate(5282,1325)">
<rect class="b" width="135" height="92"/><path class="d" d="M0,26H135M0,51.7H135"/>
<text class="c" x="67.5" y="17.5">hobbes::StripEqCst</text>
<text y="43"><tspan x="8">+ constraint</tspan></text>
<text y="68.7"><tspan x="8">+ StripEqCst()</tspan><tspan x="8" dy="14.67">+ wrapWithTy()</tspan></text>
</g>

<g id="node-StripTransparentPackF" transform="translate(5442,1310)">
<rect class="b" width="176" height="121"/><path class="d" d="M0,40.3H176M0,66H176"/>
<text class="c" x="88" y="17.5">hobbes::StripTransparent</text><text class="c" x="88" y="32.2">PackF</text>
<text y="57.3"><tspan x="8">+ constraint</tspan></text>
<text y="83"><tspan x="8">+ StripTransparentPackF()</tspan><tspan x="8" dy="14.67">+ wrapWithTy()</tspan><tspan x="8" dy="14.67">+ with()</tspan></text>
</g>

<g id="node-substTyF" transform="translate(5643,1325)">
<rect class="b" width="126" height="92"/><path class="d" d="M0,26H126M0,51.7H126"/>
<text class="c" x="63" y="17.5">hobbes::substTyF</text>
<text y="43"><tspan x="8">+ s</tspan></text>
<text y="68.7"><tspan x="8">+ substTyF()</tspan><tspan x="8" dy="14.67">+ withTy()</tspan></text>
</g>

<g id="node-TCUnqualify" transform="translate(5794,1295)">
<rect class="b" width="144" height="150.7"/><path class="d" d="M0,26H144M0,95.7H144"/>
<text class="c" x="72" y="17.5">hobbes::TCUnqualify</text>
<text y="43"><tspan x="8">+ inst</tspan><tspan x="8" dy="14.67">+ ds</tspan><tspan x="8" dy="14.67">+ tenv</tspan><tspan x="8" dy="14.67">+ constraint</tspan></text>
<text y="112.7"><tspan x="8">+ TCUnqualify()</tspan><tspan x="8" dy="14.67">+ withTy()</tspan><tspan x="8" dy="14.67">+ with()</tspan></text>
</g>

<g id="node-UnqualifySafePackF" transform="translate(5963,1325)">
<rect class="b" width="192" height="92"/><path class="d" d="M0,26H192M0,51.7H192"/>
<text class="c" x="96" y="17.5">hobbes::UnqualifySafePackF</text>
<text y="43"><tspan x="8">+ constraint</tspan></text>
<text y="68.7"><tspan x="8">+ UnqualifySafePackF()</tspan><tspan x="8" dy="14.67">+ wrapWithTy()</tspan></text>
</g>

<g id="node-VDUnqualify" transform="translate(6179,1317)">
<rect class="b" width="147" height="106.7"/><path class="d" d="M0,26H147M0,51.7H147"/>
<text class="c" x="73.5" y="17.5">hobbes::VDUnqualify</text>
<text y="43"><tspan x="8">+ constraint</tspan></text>
<text y="68.7"><tspan x="8">+ VDUnqualify()</tspan><tspan x="8" dy="14.67">+ withTy()</tspan><tspan x="8" dy="14.67">+ with()</tspan></text>
</g>
</svg>
